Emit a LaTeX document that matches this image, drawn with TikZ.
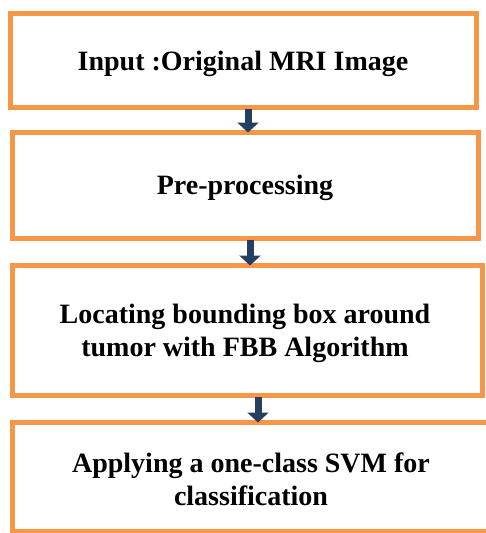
\documentclass[tikz,border=0pt]{standalone}
\usepackage{fontspec}
\setmainfont{Liberation Serif}
\usetikzlibrary{arrows.meta}
\definecolor{boxorange}{HTML}{F79646}
\definecolor{arrownavy}{HTML}{243F60}
\tikzset{
  stepbox/.style={draw=boxorange, line width=5pt, fill=white, rectangle,
    inner sep=0pt},
  steptext/.style={inner sep=0pt, align=center,
    font=\bfseries\fontsize{28}{33}\selectfont},
  flowarrow/.style={draw=arrownavy, line width=7pt,
    -{Triangle[width=21pt,length=10pt]}, shorten <=-1pt, shorten >=-3pt}
}
\begin{document}
\begin{tikzpicture}[x=1pt,y=-1pt]
  \useasboundingbox (0,0) rectangle (486,533);
  \clip (0,0) rectangle (486,533);
  \fill[white] (0,0) rectangle (486,533);

  % the four processing stages
  \node[stepbox, minimum width=466pt, minimum height=94pt] (input) at (243,60) {};
  \node[stepbox, minimum width=466pt, minimum height=106pt] (pre) at (245,185) {};
  \node[stepbox, minimum width=470pt, minimum height=130pt] (fbb) at (247,330) {};
  \node[stepbox, minimum width=490pt, minimum height=109pt] (svm) at (257,476.5) {};

  % stage captions
  \node[steptext] (inputtext) at ([yshift=-4pt]input.center)
    {Input :Original MRI Image};
  \node[steptext] (pretext) at ([yshift=-3pt]pre.center)
    {Pre-processing};
  \node[steptext] (fbbtext) at ([xshift=-2pt,yshift=-3pt]fbb.center)
    {Locating bounding box around\\tumor with FBB Algorithm};
  \node[steptext] (svmtext) at ([xshift=-6pt,yshift=-3pt]svm.center)
    {Applying a one-class SVM for\\classification};

  % arrows between stages
  \draw[flowarrow] ([xshift=5pt]input.south) -- ([xshift=5pt]input.south |- pre.north);
  \draw[flowarrow] ([xshift=5pt]pre.south) -- ([xshift=5pt]pre.south |- fbb.north);
  \draw[flowarrow] ([xshift=11pt]fbb.south) -- ([xshift=11pt]fbb.south |- svm.north);
\end{tikzpicture}
\end{document}
